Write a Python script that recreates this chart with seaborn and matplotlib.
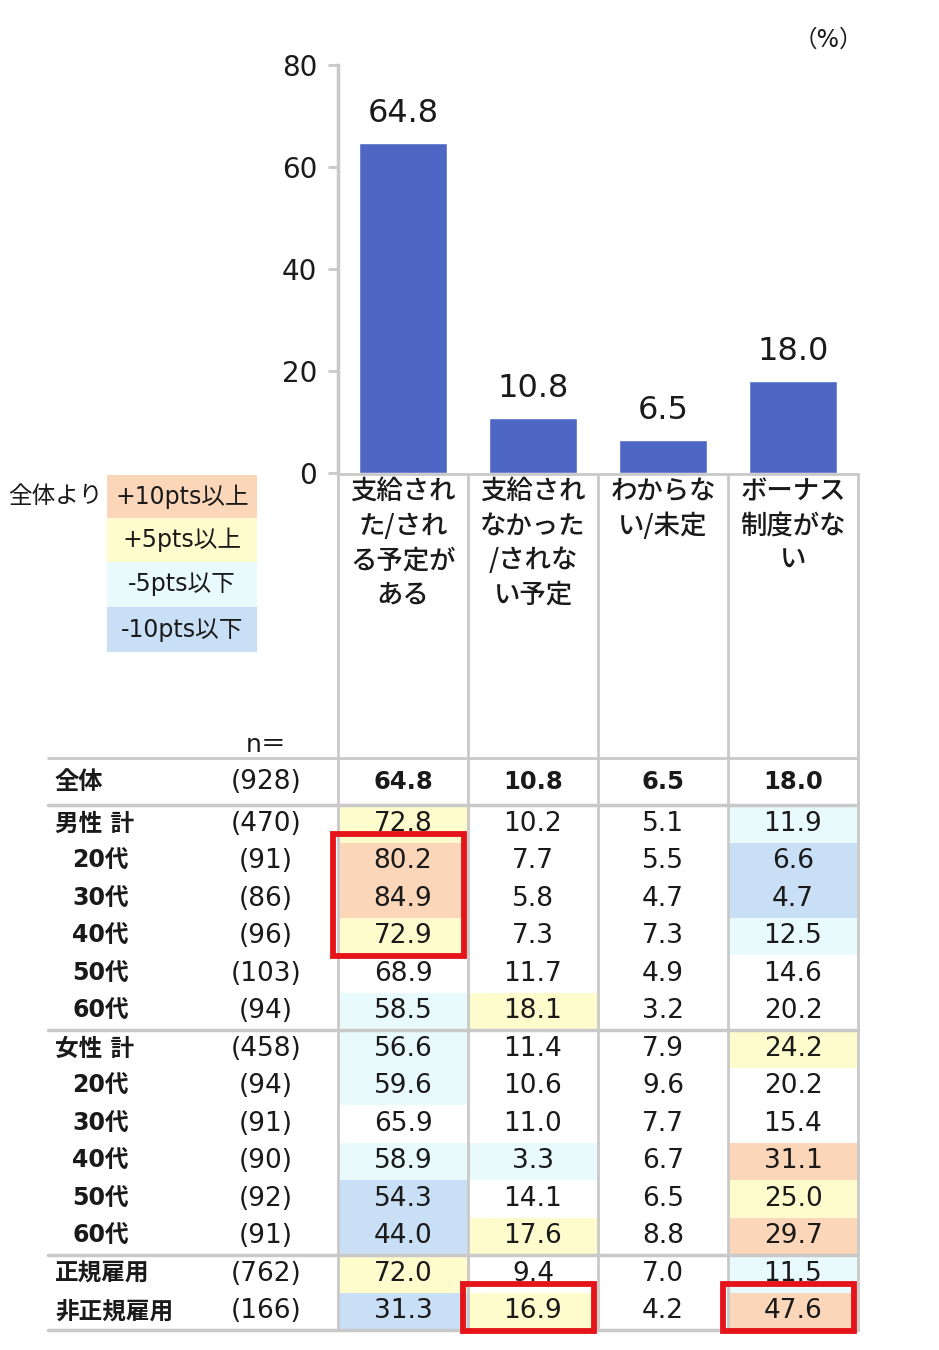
import numpy as np
import pandas as pd
import matplotlib
matplotlib.use('Agg')
import matplotlib.pyplot as plt
from matplotlib.colors import ListedColormap
from matplotlib.patches import Rectangle
from matplotlib.transforms import blended_transform_factory
import seaborn as sns

# --- data ---
categories = ['支給され\nた/され\nる予定が\nある', '支給され\nなかった\n/されな\nい予定',
              'わからな\nい/未定', 'ボーナス\n制度がな\nい']
overall = [64.8, 10.8, 6.5, 18.0]
n_total = 928

row_labels = ['男性 計', '20代', '30代', '40代', '50代', '60代',
              '女性 計', '20代', '30代', '40代', '50代', '60代',
              '正規雇用', '非正規雇用']
row_n = [470, 91, 86, 96, 103, 94, 458, 94, 91, 90, 92, 91, 762, 166]
col_paid = [72.8, 80.2, 84.9, 72.9, 68.9, 58.5, 56.6, 59.6, 65.9, 58.9, 54.3, 44.0, 72.0, 31.3]
col_not_paid = [10.2, 7.7, 5.8, 7.3, 11.7, 18.1, 11.4, 10.6, 11.0, 3.3, 14.1, 17.6, 9.4, 16.9]
col_unknown = [5.1, 5.5, 4.7, 7.3, 4.9, 3.2, 7.9, 9.6, 7.7, 6.7, 6.5, 8.8, 7.0, 4.2]
col_no_system = [11.9, 6.6, 4.7, 12.5, 14.6, 20.2, 24.2, 20.2, 15.4, 31.1, 25.0, 29.7, 11.5, 47.6]

legend_labels = ['+10pts以上', '+5pts以上', '-5pts以下', '-10pts以下']
# red boxes: (row, col, nrows, ncols)
highlights = [(1, 0, 3, 1), (13, 1, 1, 1), (13, 3, 1, 1)]

# --- styles ---
bar_color = '#4F67C4'
pal = ['#FFFFFF', '#FBD6B8', '#FEFCCC', '#E9FAFD', '#C9DFF6']
grid_c = '#C9C9C9'
txt_c = '#1A1A1A'

sns.set_style('white')
# latin glyphs from DejaVu (wide, Meiryo-like), kana/kanji from Noto CJK
plt.rcParams['font.family'] = ['DejaVu Sans', 'Noto Sans CJK JP']

W, H = 939, 1350
fig = plt.figure(figsize=(W / 100, H / 100), dpi=100)

# bar chart
ax_bar = fig.add_axes([338 / W, 1 - 473 / H, 520 / W, 408 / H])
sns.barplot(x=list(range(len(overall))), y=overall, color=bar_color, saturation=1,
            width=0.68, ax=ax_bar)
ax_bar.set_xlim(-0.5, len(overall) - 0.5)
ax_bar.set_ylim(0, 80)
ax_bar.set_yticks(range(0, 81, 20))
ax_bar.set_xticks([])
ax_bar.set_xlabel('')
ax_bar.set_ylabel('')
for s in ['top', 'right', 'bottom']:
    ax_bar.spines[s].set_visible(False)
ax_bar.spines['left'].set_color(grid_c)
ax_bar.spines['left'].set_linewidth(2.5)
ax_bar.tick_params(axis='y', left=True, length=7, width=2, color=grid_c, pad=8,
                   labelsize=20, labelcolor=txt_c)
ax_bar.bar_label(ax_bar.containers[0], fmt='%.1f', padding=10, fontsize=23,
                 color=txt_c)
ax_bar.patch.set_alpha(0)

# table (heatmap), colour = difference from overall
tab = pd.DataFrame({'a': col_paid, 'b': col_not_paid, 'c': col_unknown, 'd': col_no_system},
                   index=row_labels)
diff = np.round(tab.values - np.array(overall), 1)
codes = np.zeros(diff.shape)
codes[diff > 5] = 2
codes[diff > 10] = 1
codes[diff < -5] = 3
codes[diff < -10] = 4

ax_tab = fig.add_axes([338 / W, 1 - 1330 / H, 520 / W, 525 / H])
sns.heatmap(codes, ax=ax_tab, cmap=ListedColormap(pal), vmin=-0.5, vmax=4.5, cbar=False,
            annot=tab.values, fmt='.1f', xticklabels=False, yticklabels=False,
            annot_kws={'fontsize': 19, 'color': txt_c})

# overlay in pixel coordinates for frame, labels and legend
ov = fig.add_axes([0, 0, 1, 1])
ov.set_xlim(0, W)
ov.set_ylim(H, 0)
ov.axis('off')
ov.patch.set_alpha(0)

tr_rows = blended_transform_factory(ov.transData, ax_tab.transData)
tr_cols = blended_transform_factory(ax_tab.transData, ov.transData)

# header text below bars
tr_head = blended_transform_factory(ax_bar.transData, ov.transData)
for i, cat in enumerate(categories):
    ov.text(i, 478, cat, transform=tr_head, ha='center', va='top', fontsize=19,
            fontweight='medium', color=txt_c, linespacing=1.36,
            family=['Noto Sans CJK JP', 'DejaVu Sans'])

# vertical column lines
for j in range(len(overall) + 1):
    ov.plot([j, j], [473, 1330], transform=tr_cols, color=grid_c, lw=2, solid_capstyle='butt')
ov.plot([0, len(overall)], [474, 474], transform=tr_cols, color=grid_c, lw=2)

# horizontal separators
ov.plot([48, 858], [758, 758], color=grid_c, lw=2)
for r in [0, 6, 12, 14]:
    ov.plot([48, 858], [r, r], transform=tr_rows, color=grid_c, lw=2.5)

# overall row
ov.text(55, 782, '全体', ha='left', va='center', fontsize=17.5, fontweight='bold', color=txt_c)
ov.text(266, 782, '(%d)' % n_total, ha='center', va='center', fontsize=19, color=txt_c)
for j, v in enumerate(overall):
    ov.text(j + 0.5, 782, '%.1f' % v, transform=tr_cols, ha='center', va='center',
            fontsize=17.5, fontweight='bold', color=txt_c)
ov.text(266, 745, 'n＝', ha='center', va='center', fontsize=18, color=txt_c)

# row labels and n
for i, (lab, n) in enumerate(zip(row_labels, row_n)):
    x0 = 72 if lab.endswith('代') else 55
    ov.text(x0, i + 0.5, lab, transform=tr_rows, ha='left', va='center', fontsize=17,
            fontweight='bold', color=txt_c)
    ov.text(266, i + 0.5, '(%d)' % n, transform=tr_rows, ha='center', va='center',
            fontsize=19, color=txt_c)

# red highlight boxes
for r, c, nr, nc in highlights:
    ov.add_patch(Rectangle((c - 0.04, r - 0.22), nc + 0.01, nr + 0.24, transform=ax_tab.transData,
                           fill=False, edgecolor='#E5141A', lw=4.2, clip_on=False, zorder=5))

# legend
ov.text(8, 496, '全体より', ha='left', va='center', fontsize=17, color=txt_c)
leg_y = [475, 518, 562, 607, 652]
for k, lab in enumerate(legend_labels):
    ov.add_patch(Rectangle((107, leg_y[k]), 150, leg_y[k + 1] - leg_y[k], facecolor=pal[k + 1],
                           edgecolor='none'))
    ov.text(182, (leg_y[k] + leg_y[k + 1]) / 2, lab, ha='center', va='center', fontsize=17,
            color=txt_c)

ov.text(828, 40, '（%）', ha='center', va='center', fontsize=17, color=txt_c)

fig.savefig('out.png', dpi=100)
